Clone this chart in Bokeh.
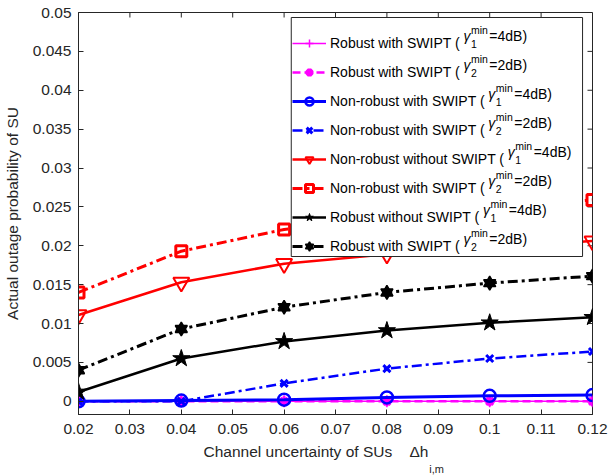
import math
from bokeh.plotting import figure
from bokeh.models import Range1d, FixedTicker, Legend, LegendItem, Title
from bokeh.core.properties import value
from bokeh.embed import file_html
from bokeh.resources import INLINE

# ---------------- data ----------------
x_vals = [0.02, 0.04, 0.06, 0.08, 0.10, 0.12]
robust_swipt_g1 = [0.0, 0.0, 0.0, 0.0, 0.0, 0.0]
robust_swipt_g2 = [0.0, 0.0, 0.0, 0.0, 0.0, 0.0]
nonrobust_swipt_g1 = [0.0, 0.0001, 0.0002, 0.0005, 0.0007, 0.0008]
nonrobust_swipt_g2 = [0.0, 0.0, 0.0023, 0.0042, 0.0055, 0.0064]
nonrobust_noswipt_g1 = [0.0111, 0.0153, 0.0177, 0.0189, 0.0198, 0.0206]
nonrobust_swipt_g2_red = [0.0140, 0.0193, 0.0221, 0.0236, 0.0249, 0.0259]
robust_noswipt_g1 = [0.0012, 0.0055, 0.0077, 0.0091, 0.0101, 0.0108]
robust_swipt_g2_black = [0.0040, 0.0093, 0.0121, 0.0140, 0.0152, 0.0161]

x_ticks = [0.02, 0.03, 0.04, 0.05, 0.06, 0.07, 0.08, 0.09, 0.1, 0.11, 0.12]
x_tick_labels = ["0.02", "0.03", "0.04", "0.05", "0.06", "0.07", "0.08", "0.09", "0.1", "0.11", "0.12"]
y_ticks = [0.0, 0.005, 0.01, 0.015, 0.02, 0.025, 0.03, 0.035, 0.04, 0.045, 0.05]
y_tick_labels = ["0", "0.005", "0.01", "0.015", "0.02", "0.025", "0.03", "0.035", "0.04", "0.045", "0.05"]

legend_prefix = ["Robust with SWIPT (", "Robust with SWIPT (", "Non-robust with SWIPT (",
                 "Non-robust with SWIPT (", "Non-robust without SWIPT (", "Non-robust with SWIPT (",
                 "Robust without SWIPT (", "Robust with SWIPT ("]
legend_sub = ["1", "2", "1", "2", "1", "2", "1", "2"]
legend_rest = ["=4dB)", "=2dB)", "=4dB)", "=2dB)", "=4dB)", "=2dB)", "=4dB)", "=2dB)"]

x_label_text = "Channel uncertainty of SUs\u00a0\u00a0\u00a0\u00a0Δh"
x_label_sub = "i,m"
y_label_text = "Actual outage probability of SU"

FONT = "Liberation Sans"
AX = "#262626"

X0, X1 = 0.02, 0.12
Y0, Y1 = -0.0017, 0.05
# frame geometry (pixels)
FL, FT, FW, FH = 75, 12, 517, 402

# Arial / Liberation Sans advance widths (1/1000 em)
W = {' ': 278, '\u00a0': 278, '(': 333, ')': 333, '-': 333, '=': 584, ',': 278, 'A': 667, 'B': 667,
     'C': 722, 'I': 278, 'N': 722, 'P': 667, 'R': 722, 'S': 667, 'T': 611, 'U': 722, 'W': 944,
     'a': 556, 'b': 556, 'c': 500, 'd': 556, 'e': 556, 'f': 278, 'g': 556, 'h': 556, 'i': 222,
     'l': 222, 'm': 833, 'n': 556, 'o': 556, 'p': 556, 'r': 333, 's': 500, 't': 278, 'u': 556,
     'w': 722, 'y': 500, 'Δ': 668, 'γ': 500}


def tw(s, px):
    return sum(W.get(c, 556) for c in s) / 1000.0 * px


def px2x(px):
    return X0 + (px - FL) / FW * (X1 - X0)


def py2y(py):
    return Y1 - (py - FT) / FH * (Y1 - Y0)


p = figure(width=609, height=476, x_range=Range1d(X0, X1), y_range=Range1d(Y0, Y1),
           output_backend="svg", toolbar_location=None,
           min_border_left=FL, min_border_right=609 - FL - FW, min_border_top=FT,
           min_border_bottom=476 - FT - FH)
p.xgrid.visible = False
p.ygrid.visible = False
p.outline_line_color = AX
p.outline_line_width = 1
p.background_fill_color = "white"
p.border_fill_color = "white"


def style_axis(ax, ticks, labels, standoff):
    ax.ticker = FixedTicker(ticks=ticks)
    ax.major_label_overrides = {t: l for t, l in zip(ticks, labels)}
    ax.axis_line_color = AX
    ax.major_tick_line_color = AX
    ax.major_tick_in = 5
    ax.major_tick_out = 0
    ax.minor_tick_line_color = None
    ax.major_label_text_font = FONT
    ax.major_label_text_color = AX
    ax.major_label_text_font_size = "15.5px"
    ax.major_label_standoff = standoff


style_axis(p.xaxis[0], x_ticks, x_tick_labels, 9)
style_axis(p.yaxis[0], y_ticks, y_tick_labels, 7)
p.yaxis[0].axis_label = y_label_text
p.yaxis[0].axis_label_text_font = FONT
p.yaxis[0].axis_label_text_font_size = "15.5px"
p.yaxis[0].axis_label_text_font_style = "normal"
p.yaxis[0].axis_label_text_color = AX
p.yaxis[0].axis_label_standoff = 9

# tick marks on the top and right edges of the box
p.ray(x=x_ticks, y=[Y1] * len(x_ticks), length=5, length_units="screen",
      angle=-math.pi / 2, line_color=AX, line_width=1)
p.ray(x=[X1] * len(y_ticks), y=y_ticks, length=5, length_units="screen",
      angle=math.pi, line_color=AX, line_width=1)

# ---------------- series ----------------
r1 = p.line(x_vals, robust_swipt_g1, line_color="#FF00FF", line_width=1.5)
m1 = p.scatter(x_vals, robust_swipt_g1, marker="cross", size=12, line_color="#FF00FF", line_width=1.5)

r2 = p.line(x_vals, robust_swipt_g2, line_color="#FF00FF", line_width=2.5, line_dash="8 4")
m2 = p.scatter(x_vals, robust_swipt_g2, marker="asterisk", size=10, line_color="#FF00FF", line_width=3)

r3 = p.line(x_vals, nonrobust_swipt_g1, line_color="#0000FF", line_width=3)
m3 = p.scatter(x_vals, nonrobust_swipt_g1, marker="circle", size=12, line_color="#0000FF",
               fill_color=None, line_width=2.5)

r4 = p.line(x_vals, nonrobust_swipt_g2, line_color="#0000FF", line_width=2.5, line_dash="10 4 3 4")
m4 = p.scatter(x_vals, nonrobust_swipt_g2, marker="x", size=10, line_color="#0000FF", line_width=3)

r5 = p.line(x_vals, nonrobust_noswipt_g1, line_color="#FF0000", line_width=2.5)
m5 = p.scatter(x_vals, nonrobust_noswipt_g1, marker="inverted_triangle", size=16, line_color="#FF0000",
               fill_color=None, line_width=2)

r6 = p.line(x_vals, nonrobust_swipt_g2_red, line_color="#FF0000", line_width=3, line_dash="10 4 3 4")
m6 = p.scatter(x_vals, nonrobust_swipt_g2_red, marker="square", size=11, line_color="#FF0000",
               fill_color=None, line_width=3)

r7 = p.line(x_vals, robust_noswipt_g1, line_color="black", line_width=2.5)
m7 = p.scatter(x_vals, robust_noswipt_g1, marker="star", size=18, line_color="black", fill_color="black")

r8 = p.line(x_vals, robust_swipt_g2_black, line_color="black", line_width=3, line_dash="10 4 3 4")
m8a = p.scatter(x_vals, robust_swipt_g2_black, marker="triangle", size=12, line_color="black",
                fill_color="black", line_width=1.5)
m8b = p.scatter(x_vals, robust_swipt_g2_black, marker="inverted_triangle", size=12, line_color="black",
                fill_color="black", line_width=1.5)

# ---------------- legend ----------------
# legend box geometry (page pixels)
LG_L, LG_T, LG_R = 289, 17, 582
PAD, SPACING, ROW_H, GLYPH_W, STANDOFF = 8, 9, 20, 34, 4
n_items = len(legend_prefix)
LG_B = LG_T + 2 * PAD + n_items * ROW_H + (n_items - 1) * SPACING

# white box with border, drawn above the data lines
p.quad(left=[px2x(LG_L)], right=[px2x(LG_R)], top=[py2y(LG_T)], bottom=[py2y(LG_B)],
       fill_color="white", line_color=AX, line_width=1)

# gamma with stacked super/subscript and the rest of each legend label
label_x = LG_L + PAD + GLYPH_W + STANDOFF
g_off_x, g_off_y, sup_x, sup_y, sub_y, rest_x, rest_y = [], [], [], [], [], [], []
for i, pref in enumerate(legend_prefix):
    cy = LG_T + PAD + ROW_H / 2 + i * (ROW_H + SPACING)
    gx = label_x + tw(pref, 14) - 5
    g_off_x.append(gx - FL)
    g_off_y.append(cy - (FT + FH))
    sx = gx + 7.5
    sup_x.append(sx - FL)
    sup_y.append(cy - 6 - (FT + FH))
    sub_y.append(cy + 8 - (FT + FH))
    rest_x.append(sx + tw("min", 10.5) + 1.5 - FL)
    rest_y.append(cy - (FT + FH))

anchor_x = [X0] * n_items
anchor_y = [Y0] * n_items
p.text(x=anchor_x, y=anchor_y, text=["γ"] * n_items, x_offset=g_off_x, y_offset=g_off_y,
       text_font=value(FONT), text_font_size=value("14px"), text_font_style="italic",
       text_baseline="middle", text_align="left", text_color="black")
p.text(x=anchor_x, y=anchor_y, text=["min"] * n_items, x_offset=sup_x, y_offset=sup_y,
       text_font=value(FONT), text_font_size=value("10.5px"),
       text_baseline="middle", text_align="left", text_color="black")
p.text(x=anchor_x, y=anchor_y, text=legend_sub, x_offset=sup_x, y_offset=sub_y,
       text_font=value(FONT), text_font_size=value("10.5px"),
       text_baseline="middle", text_align="left", text_color="black")
p.text(x=anchor_x, y=anchor_y, text=legend_rest, x_offset=rest_x, y_offset=rest_y,
       text_font=value(FONT), text_font_size=value("14px"),
       text_baseline="middle", text_align="left", text_color="black")

renderer_sets = [[r1, m1], [r2, m2], [r3, m3], [r4, m4], [r5, m5], [r6, m6], [r7, m7], [r8, m8a, m8b]]
items = [LegendItem(label=pref, renderers=rs) for pref, rs in zip(legend_prefix, renderer_sets)]

legend = Legend(items=items, location=(LG_L - FL, FT + FH - LG_B), padding=PAD, spacing=SPACING,
                label_height=ROW_H, glyph_height=ROW_H, glyph_width=GLYPH_W, label_standoff=STANDOFF,
                label_width=LG_R - LG_L - 2 * PAD - GLYPH_W - STANDOFF, margin=0,
                border_line_color=None, background_fill_alpha=0.0,
                label_text_font=FONT, label_text_font_size="14px", label_text_color="black")
p.add_layout(legend)

# x axis label (with subscript) as left-aligned titles below the axis
xl_off = 125
p.add_layout(Title(text=x_label_text, align="left", offset=xl_off, standoff=9,
                   text_font=FONT, text_font_size="15.5px", text_font_style="normal",
                   text_color=AX), "below")
p.add_layout(Title(text=x_label_sub, align="left", offset=xl_off + tw(x_label_text, 15.5) + 1,
                   standoff=-8, text_font=FONT, text_font_size="11px", text_font_style="normal",
                   text_color=AX), "below")

open("out.html", "w").write(file_html(p, INLINE))
